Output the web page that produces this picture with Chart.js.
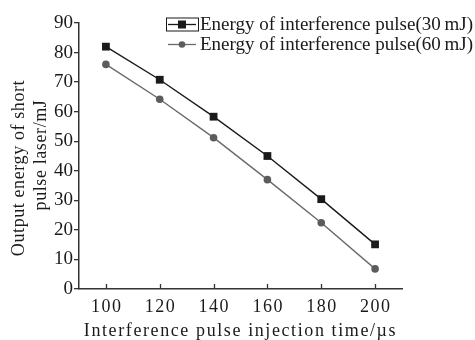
<!DOCTYPE html>
<html>
<head>
<meta charset="utf-8">
<script src="https://cdn.jsdelivr.net/npm/chart.js@4/dist/chart.umd.min.js"></script>
<style>
  html, body { margin: 0; padding: 0; background: #fff; }
  #wrap { width: 475px; height: 340px; }
</style>
</head>
<body>
<div id="wrap"><canvas id="energyChart" width="475" height="340"></canvas></div>
<script>
// === Data ===
const injectionTimes = [100, 120, 140, 160, 180, 200];
const energy30 = [82, 70.8, 58.3, 45, 30.4, 15.1];
const energy60 = [76, 64.2, 51.2, 37, 22.4, 6.8];
const xTickValues = [100, 120, 140, 160, 180, 200];
const seriesLabels = ["Energy of interference pulse(30\u2009mJ)", "Energy of interference pulse(60\u2009mJ)"];
const xTitle = "Interference pulse injection time/\u00b5s";
const yTitleLines = ["Output energy of short", "pulse laser/mJ"];

const SERIF = "'Liberation Serif', 'Times New Roman', serif";
const INK = "#1a1a1a";
const GREY = "#5c5c5c";

// === Custom drawing: inward x ticks, spaced labels, titles, legend ===
const decorPlugin = {
  id: "decor",
  afterDraw(chart) {
    const ctx = chart.ctx;
    const xs = chart.scales.x;
    const area = chart.chartArea;
    ctx.save();

    // x ticks point up into the plot
    ctx.strokeStyle = "#333";
    ctx.lineWidth = 1.3;
    xTickValues.forEach(v => {
      const px = Math.round(xs.getPixelForValue(v)) + 0.5;
      ctx.beginPath();
      ctx.moveTo(px, area.bottom);
      ctx.lineTo(px, area.bottom - 5);
      ctx.stroke();
    });

    // x tick labels, slightly spaced
    ctx.fillStyle = INK;
    ctx.font = "18px " + SERIF;
    ctx.letterSpacing = "1.5px";
    ctx.textAlign = "center";
    ctx.textBaseline = "middle";
    xTickValues.forEach(v => {
      ctx.fillText(String(v), xs.getPixelForValue(v) + 0.75, area.bottom + 18.5);
    });

    // x title
    ctx.letterSpacing = "1.6px";
    ctx.fillText(xTitle, (area.left + area.right) / 2, 331);

    // y title, two rotated lines
    ctx.letterSpacing = "0.6px";
    ctx.save();
    ctx.translate(19, 168);
    ctx.rotate(-Math.PI / 2);
    ctx.fillText(yTitleLines[0], 0, 0);
    ctx.restore();
    ctx.save();
    ctx.translate(41, 155);
    ctx.rotate(-Math.PI / 2);
    ctx.fillText(yTitleLines[1], 0, 0);
    ctx.restore();

    // legend
    ctx.letterSpacing = "0px";
    ctx.textAlign = "left";
    ctx.font = "19px " + SERIF;
    const rows = [24.5, 44.5];
    chart.data.datasets.forEach((ds, i) => {
      const y = rows[i];
      ctx.strokeStyle = ds.borderColor;
      ctx.lineWidth = 1.3;
      ctx.beginPath();
      ctx.moveTo(168, y);
      ctx.lineTo(196, y);
      ctx.stroke();
      ctx.fillStyle = ds.pointBackgroundColor;
      if (ds.pointStyle === "rect") {
        ctx.fillRect(182 - 4, y - 4, 8, 8);
        ctx.strokeStyle = INK;
        ctx.lineWidth = 1;
        ctx.strokeRect(166.5, y - 6.5, 32, 13);
      } else {
        ctx.beginPath();
        ctx.arc(182, y, 3.3, 0, Math.PI * 2);
        ctx.fill();
      }
      ctx.fillStyle = INK;
      ctx.fillText(ds.label, 200, y + 1);
    });

    ctx.restore();
  }
};

// === Chart ===
const ctx = document.getElementById("energyChart").getContext("2d");
new Chart(ctx, {
  type: "line",
  data: {
    datasets: [
      {
        label: seriesLabels[0],
        data: injectionTimes.map((t, i) => ({ x: t, y: energy30[i] })),
        borderColor: INK,
        borderWidth: 1.4,
        pointStyle: "rect",
        pointRadius: 5.5,
        pointBackgroundColor: INK,
        pointBorderColor: INK,
        pointBorderWidth: 0
      },
      {
        label: seriesLabels[1],
        data: injectionTimes.map((t, i) => ({ x: t, y: energy60[i] })),
        borderColor: "#6a6a6a",
        borderWidth: 1.4,
        pointStyle: "circle",
        pointRadius: 3.8,
        pointBackgroundColor: GREY,
        pointBorderColor: GREY,
        pointBorderWidth: 0
      }
    ]
  },
  options: {
    responsive: false,
    animation: false,
    layout: { padding: { top: 23, right: 73, left: 0, bottom: 0 } },
    plugins: {
      legend: { display: false },
      tooltip: { enabled: false }
    },
    scales: {
      x: {
        type: "linear",
        min: 90,
        max: 210,
        afterBuildTicks: scale => { scale.ticks = xTickValues.map(v => ({ value: v })); },
        afterFit: scale => { scale.height = 51; },
        ticks: { display: false },
        grid: { display: false },
        border: { display: true, color: "#333", width: 1.5 }
      },
      y: {
        min: 0,
        max: 90,
        afterFit: scale => { scale.width = 79; },
        ticks: {
          stepSize: 10,
          padding: 1,
          color: INK,
          font: { family: SERIF, size: 19 }
        },
        grid: { drawOnChartArea: false, tickLength: 5, color: "#333", lineWidth: 1.3 },
        border: { display: true, color: "#333", width: 1.5 }
      }
    }
  },
  plugins: [decorPlugin]
});
</script>
</body>
</html>
